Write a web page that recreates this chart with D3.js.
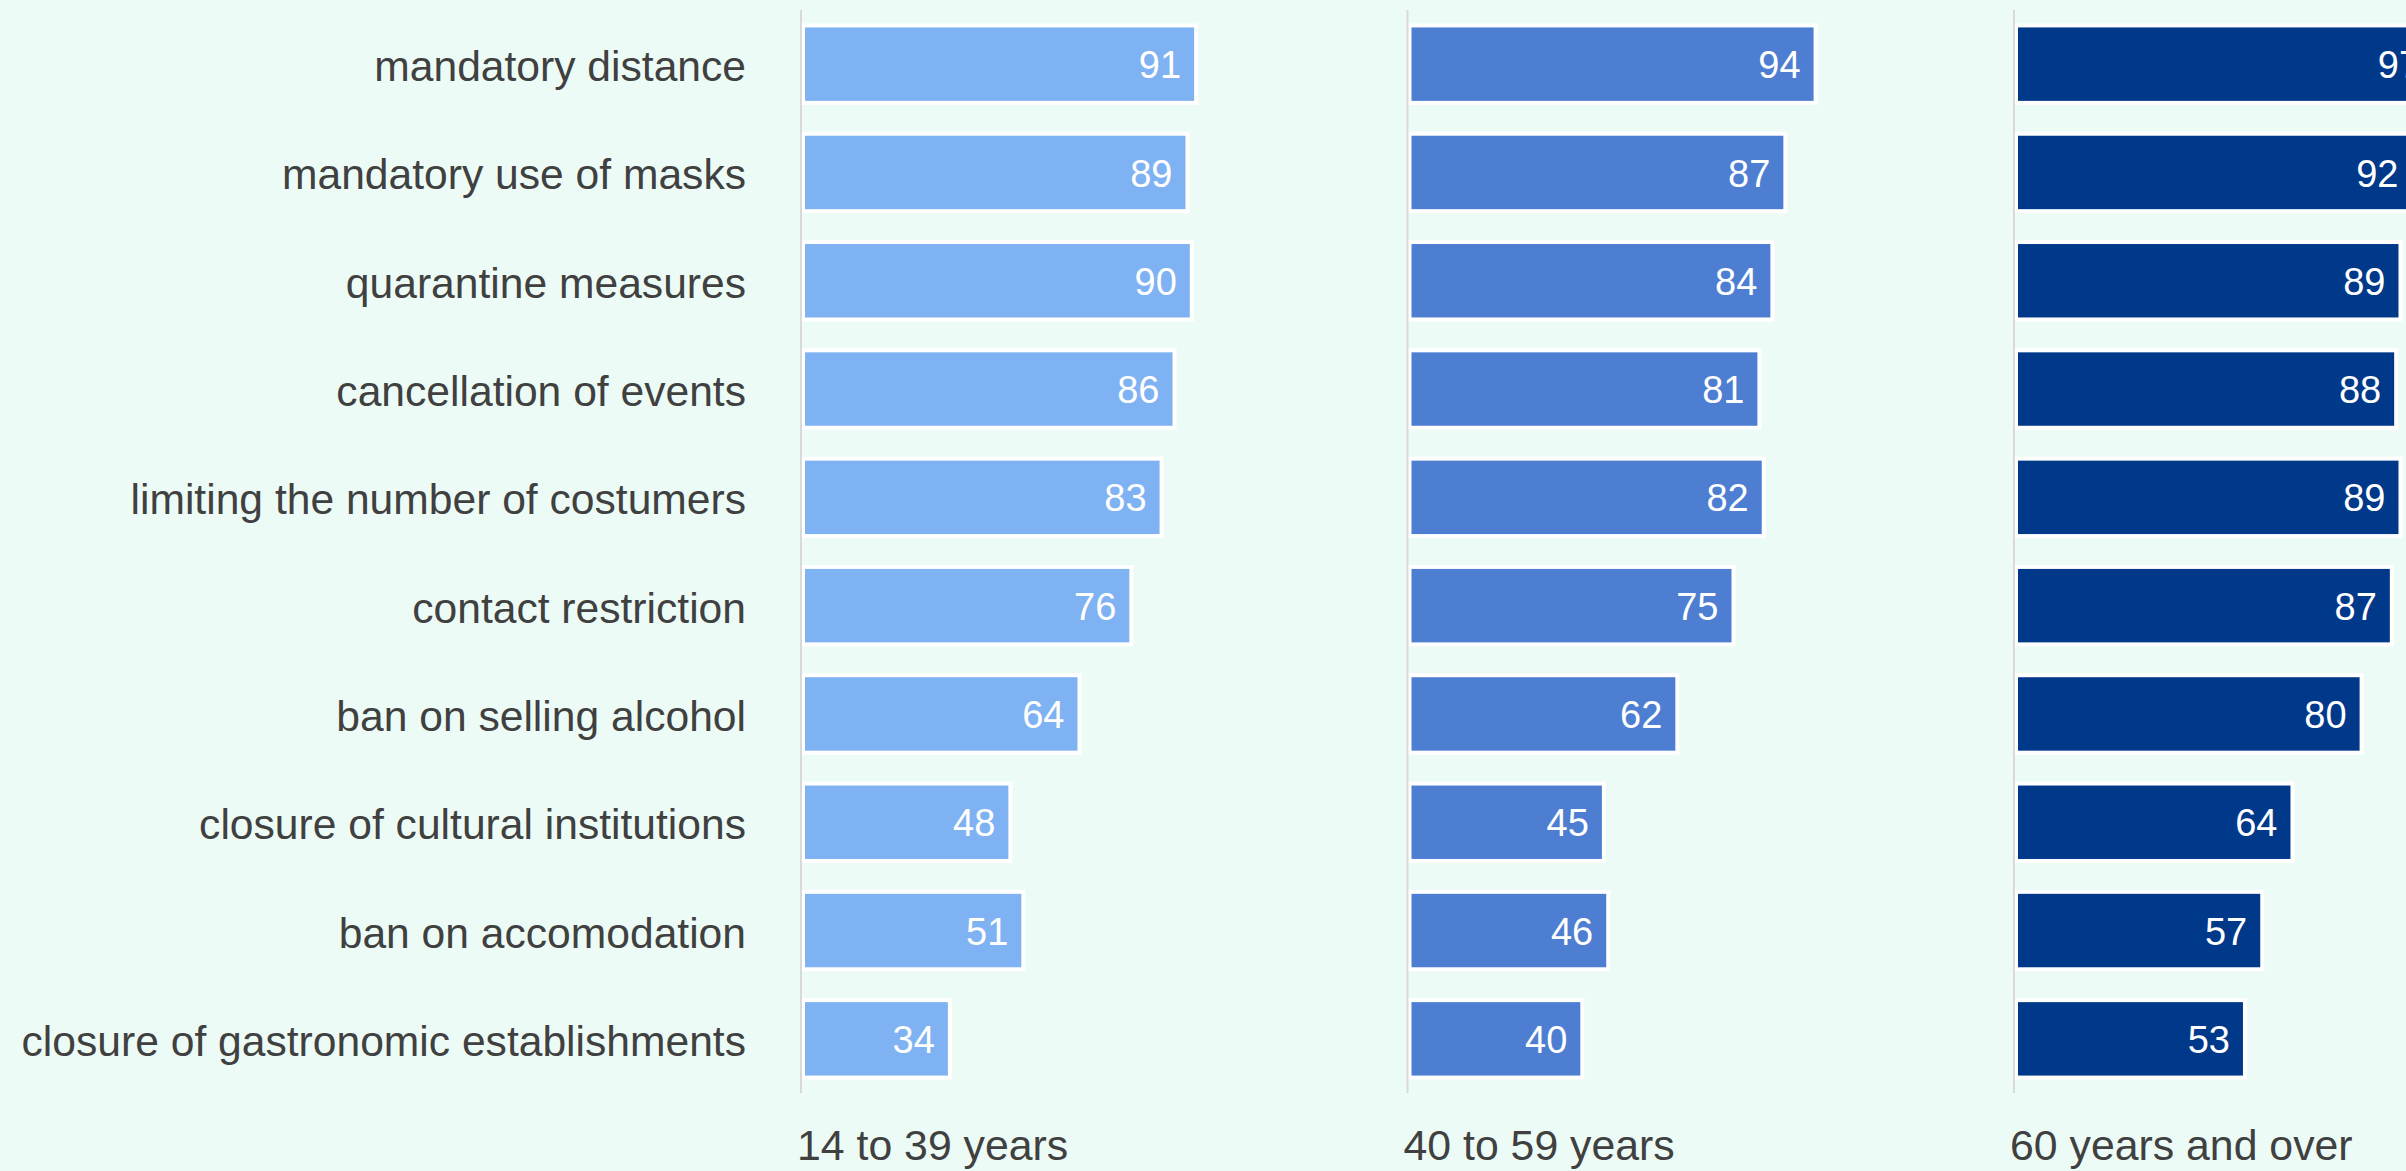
<!DOCTYPE html>
<html>
<head>
<meta charset="utf-8">
<script src="https://cdn.jsdelivr.net/npm/d3@7/dist/d3.min.js"></script>
<style>
  html, body { margin: 0; padding: 0; background: #ECFBF6; overflow: hidden; }
  svg { display: block; }
  text { font-family: "Liberation Sans", Arial, sans-serif; }
</style>
</head>
<body>
<svg id="chart"></svg>
<script>
// Acceptance of corona measures by age group (percent)
const measures = [
  "mandatory distance",
  "mandatory use of masks",
  "quarantine measures",
  "cancellation of events",
  "limiting the number of costumers",
  "contact restriction",
  "ban on selling alcohol",
  "closure of cultural institutions",
  "ban on accomodation",
  "closure of gastronomic establishments"
];
const ageGroups = ["14 to 39 years", "40 to 59 years", "60 years and over"];
const values14to39 = [91, 89, 90, 86, 83, 76, 64, 48, 51, 34];
const values40to59 = [94, 87, 84, 81, 82, 75, 62, 45, 46, 40];
const values60plus = [97, 92, 89, 88, 89, 87, 80, 64, 57, 53];
const groupColors = ["#7FB2F2", "#4D7ED2", "#00388A"];

const series = [values14to39, values40to59, values60plus];

const W = 2406, H = 1171;
const svg = d3.select("#chart").attr("width", W).attr("height", H);

svg.append("rect").attr("width", W).attr("height", H).attr("fill", "#ECFBF6");

// panel origins
const panel = d3.scaleBand()
  .domain(ageGroups)
  .range([803, 803 + 3 * 606.5])
  .paddingInner(0).paddingOuter(0);

// value scale shared by every panel
const x = d3.scaleLinear().domain([0, 100]).range([0, 432]);

const y = d3.scaleBand()
  .domain(measures)
  .range([10, 1093])
  .paddingInner(0.285)
  .paddingOuter(0.1425);

// category labels
svg.append("g")
  .selectAll("text")
  .data(measures)
  .join("text")
  .attr("x", 746)
  .attr("y", d => y(d) + y.bandwidth() / 2)
  .attr("dy", "0.4em")
  .attr("text-anchor", "end")
  .attr("fill", "#404040")
  .attr("font-size", 42.6)
  .text(d => d);

ageGroups.forEach((g, gi) => {
  const x0 = panel(g);
  const rows = measures.map((m, i) => ({ m, v: series[gi][i] }));
  const pg = svg.append("g").attr("transform", `translate(${x0},0)`);

  pg.selectAll("rect")
    .data(rows)
    .join("rect")
    .attr("x", x(0))
    .attr("y", d => y(d.m))
    .attr("width", d => x(d.v))
    .attr("height", y.bandwidth())
    .attr("fill", groupColors[gi])
    .attr("stroke", "#ffffff")
    .attr("stroke-width", 4);

  pg.selectAll("text.value")
    .data(rows)
    .join("text")
    .attr("class", "value")
    .attr("x", d => x(d.v) - 15)
    .attr("y", d => y(d.m) + y.bandwidth() / 2)
    .attr("dy", "0.37em")
    .attr("text-anchor", "end")
    .attr("fill", "#ffffff")
    .attr("font-size", 38)
    .text(d => d.v);

  // baseline
  pg.append("line")
    .attr("x1", -2).attr("x2", -2)
    .attr("y1", 10).attr("y2", 1093)
    .attr("stroke", "#d9d9d9")
    .attr("stroke-width", 2);

  // group label
  pg.append("text")
    .attr("x", -6)
    .attr("y", 1160)
    .attr("fill", "#404040")
    .attr("font-size", 42.8)
    .text(g);
});
</script>
</body>
</html>
